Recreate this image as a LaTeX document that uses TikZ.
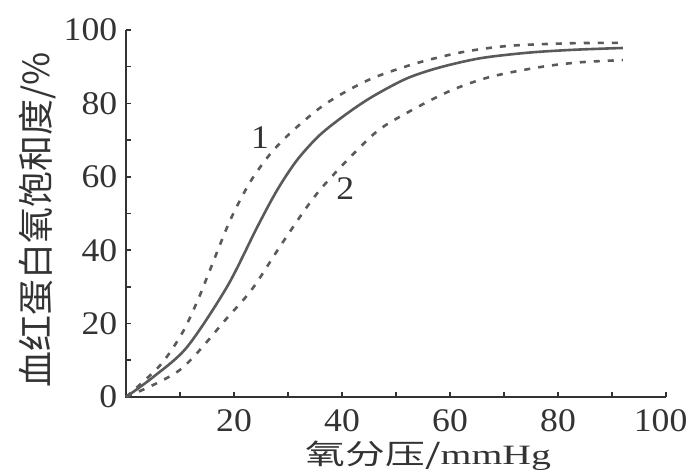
\documentclass[tikz,border=0pt]{standalone}
\usepackage{fontspec}
\setmainfont{Liberation Serif}
\newfontfamily\cjk{Noto Sans CJK SC}
\definecolor{inkgray}{HTML}{333333}
\definecolor{curvegray}{HTML}{5A5A5A}
\tikzset{
  axisline/.style={draw=inkgray, line width=2.6pt},
  tickline/.style={draw=inkgray, line width=1.6pt},
  numlabel/.style={text=inkgray, font=\fontsize{33}{33}\selectfont, inner sep=0pt, xscale=1.08},
  cjklabel/.style={text=inkgray, font=\cjk\fontsize{34}{34}\selectfont, inner sep=0pt},
  solidcurve/.style={draw=curvegray, line width=2.6pt},
  dashcurve/.style={draw=curvegray, line width=2.6pt, dash pattern=on 6pt off 8pt}
}
\begin{document}
\begin{tikzpicture}[x=1pt,y=1pt]
\useasboundingbox (0,0) rectangle (698,471);
\begin{scope}[shift={(126,74)},x=5.4pt,y=3.67pt]
% axes
\coordinate (org) at (0,0);
\coordinate (xend) at (100,0);
\coordinate (yend) at (0,100);
\draw[axisline] (yend) -- (org) -- (xend);
% ticks
\draw[tickline] (10,0) -- ++(0,1.3);
\draw[tickline] (20,0) -- ++(0,1.3);
\draw[tickline] (30,0) -- ++(0,1.3);
\draw[tickline] (40,0) -- ++(0,1.3);
\draw[tickline] (50,0) -- ++(0,1.3);
\draw[tickline] (60,0) -- ++(0,1.3);
\draw[tickline] (70,0) -- ++(0,1.3);
\draw[tickline] (80,0) -- ++(0,1.3);
\draw[tickline] (90,0) -- ++(0,1.3);
\draw[tickline] (100,0) -- ++(0,1.3);
\draw[tickline] (0,10) -- ++(0.9,0);
\draw[tickline] (0,20) -- ++(0.9,0);
\draw[tickline] (0,30) -- ++(0.9,0);
\draw[tickline] (0,40) -- ++(0.9,0);
\draw[tickline] (0,50) -- ++(0.9,0);
\draw[tickline] (0,60) -- ++(0.9,0);
\draw[tickline] (0,70) -- ++(0.9,0);
\draw[tickline] (0,80) -- ++(0.9,0);
\draw[tickline] (0,90) -- ++(0.9,0);
\draw[tickline] (0,100) -- ++(0.9,0);
% tick labels
\node[numlabel, anchor=east] (y0) at (-1.6,0) {0};
\node[numlabel, anchor=east] (y20) at (-1.6,20) {20};
\node[numlabel, anchor=east] (y40) at (-1.6,40) {40};
\node[numlabel, anchor=east] (y60) at (-1.6,60) {60};
\node[numlabel, anchor=east] (y80) at (-1.6,80) {80};
\node[numlabel, anchor=east] (y100) at (-1.6,100) {100};
\node[numlabel] (x20) at (20,-6.4) {20};
\node[numlabel] (x40) at (40,-6.4) {40};
\node[numlabel] (x60) at (60,-6.4) {60};
\node[numlabel] (x80) at (80,-6.4) {80};
\node[numlabel] (x100) at (99,-6.4) {100};
% axis titles
\node[cjklabel, font=\cjk\fontsize{36}{36}\selectfont, rotate=90] (ytitle) at (-16.4,48.2) {血红蛋白氧饱和度/\%};
\node[cjklabel, font=\cjk\fontsize{28}{28}\selectfont, xscale=1.42] (xtitle) at (56,-15.9) {氧分压/\fontspec{Liberation Serif}mmHg};
% curves
\draw[solidcurve] plot[smooth, tension=0.5] coordinates {(0,0) (5,5.4) (11.3,13.6) (18.7,30) (24.3,46.3) (28,56.4) (31.7,64.6) (35.9,71.4) (40.9,77.2) (45.7,81.9) (52,86.8) (58.1,89.8) (65.6,92.3) (74.3,93.8) (82.8,94.6) (92,95.1)};
\draw[dashcurve] plot[smooth, tension=0.5] coordinates {(0,0) (6.3,8.6) (10.4,17.4) (13.3,26.4) (15.6,34.8) (19.3,48.2) (23,58.6) (26.7,66.2) (30.4,71.9) (35.4,78.2) (39.6,82.3) (45.7,86.9) (53.9,91) (62.4,94) (71.1,95.7) (82.8,96.4) (92,96.5)};
\draw[dashcurve] plot[smooth, tension=0.5] coordinates {(0,0) (10,7.4) (18.7,21.5) (23.5,29.7) (29.1,42.3) (35.9,56.4) (45.7,71.4) (52,77.4) (60,83.4) (67.4,87.2) (76.7,89.9) (84.1,91.2) (92,91.8)};
% curve labels
\node[numlabel] (lab1) at (24.8,70.8) {1};
\node[numlabel] (lab2) at (40.6,56.9) {2};
\end{scope}
\end{tikzpicture}
\end{document}
